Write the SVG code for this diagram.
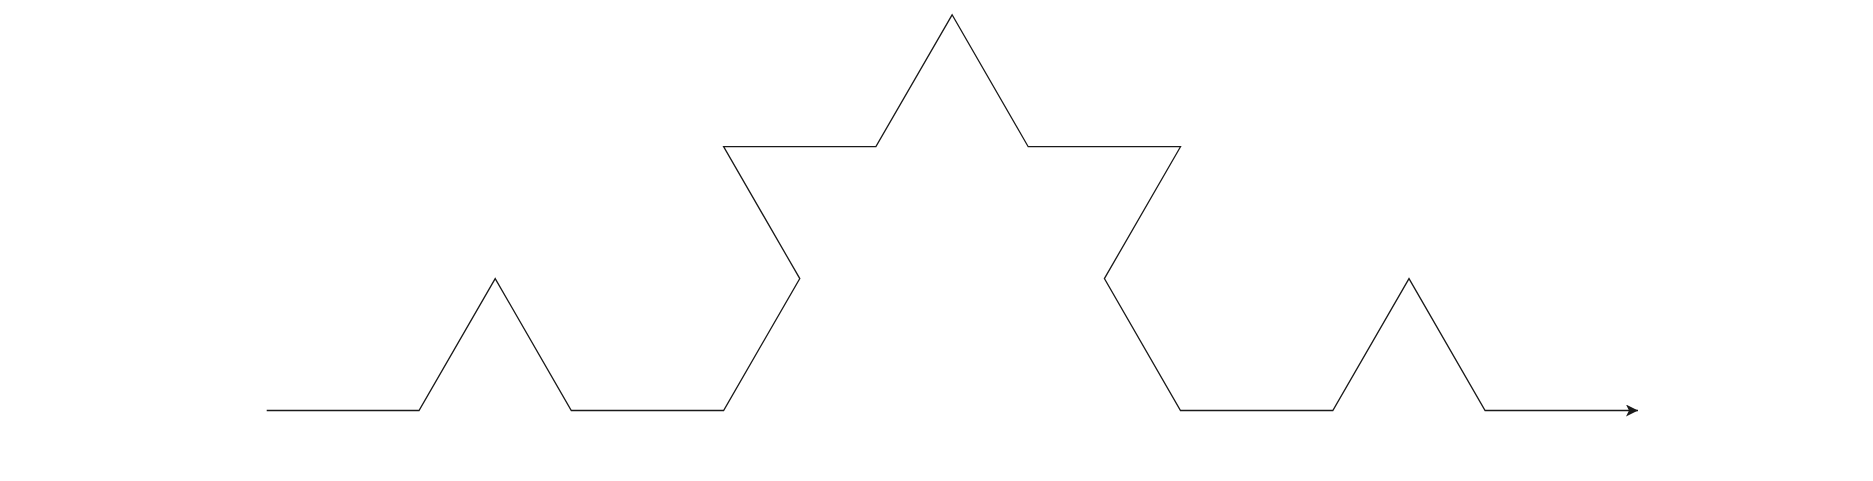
<svg xmlns="http://www.w3.org/2000/svg" width="1873" height="481" viewBox="0 0 1873 481">
<style>
.curve{fill:none;stroke:#1a1a1a;stroke-width:1.3;stroke-linejoin:miter}
</style>
<defs>
<marker id="arr" markerUnits="userSpaceOnUse" markerWidth="16" markerHeight="16" refX="12" refY="6" orient="auto">
<path d="M0,0 L12,6 L0,12 L3,6 Z" fill="#1a1a1a"/>
</marker>
</defs>
<rect width="1873" height="481" fill="#fff"/>
<g id="connectors">
<path class="curve" marker-end="url(#arr)" d="M266.7,410.5 L419,410.5 L495.2,278.6 L571.3,410.5 L723.6,410.5 L799.8,278.6 L723.6,146.7 L875.9,146.7 L952.1,14.8 L1028.2,146.7 L1180.5,146.7 L1104.4,278.6 L1180.5,410.5 L1332.8,410.5 L1409,278.6 L1485.1,410.5 L1638,410.5"/>
</g>
</svg>
